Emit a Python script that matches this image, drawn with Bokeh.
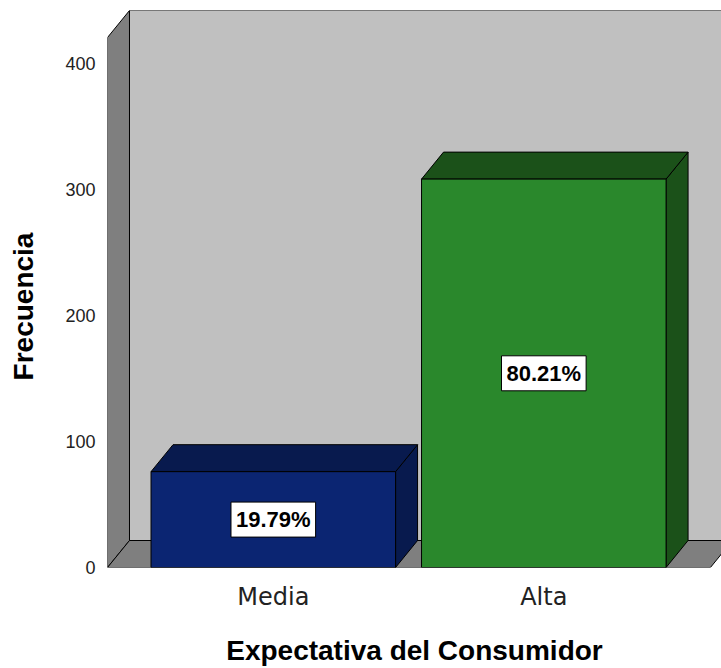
import numpy as np
from bokeh.plotting import figure
from bokeh.layouts import row
from bokeh.models import Range1d, LinearAxis, FixedTicker
from bokeh.core.properties import value
from bokeh.embed import file_html
from bokeh.resources import INLINE

# Frequencies of consumer expectation
categories = ["Media", "Alta"]
frequencies = [76, 308]
percent_labels = ["19.79%", "80.21%"]
y_ticks = [0, 100, 200, 300, 400]

front_colors = ["#0b2572", "#2a882c"]
shade_colors = ["#081a4e", "#1b5119"]

# Pseudo-3D geometry, in data units
pos = np.arange(1, len(categories) + 1, dtype=float)
half = 0.452          # half width of the bar front face
dx = 0.0813           # depth offset along x
dy = 21.4             # depth offset along y
wall_left = 0.3871
wall_right = 2.616
wall_top = 420.3

# narrow strip holding the vertical axis title (its frame lines up with the main one)
title_w = 46
side = figure(width=title_w, height=668, x_range=Range1d(0, 1), y_range=Range1d(0, 1),
              output_backend="svg", toolbar_location=None,
              x_axis_location=None, y_axis_location=None, min_border=0)
side.grid.grid_line_color = None
side.outline_line_color = None
side.text(x=[0.5], y=[0.4686], text=["Frecuencia"], angle=np.pi / 2,
          text_align="center", text_baseline="middle",
          text_font=value("Liberation Sans"), text_font_style="bold",
          text_font_size="28px", text_color="black")

p = figure(
    width=721 - title_w, height=668,
    x_range=Range1d(wall_left, 2.6569),
    y_range=Range1d(0, wall_top + dy),
    output_backend="svg", toolbar_location=None,
    x_axis_location=None, y_axis_location=None,
    min_border_left=107 - title_w, min_border_right=0,
    min_border_top=10, min_border_bottom=101,
)
p.grid.grid_line_color = None
p.outline_line_color = None
p.background_fill_color = "white"
p.border_fill_color = "white"

yaxis = LinearAxis(ticker=FixedTicker(ticks=y_ticks))
xaxis = LinearAxis(ticker=FixedTicker(ticks=list(pos)),
                   major_label_overrides={float(k): c for k, c in zip(pos, categories)},
                   axis_label="Expectativa del Consumidor")
for ax in (xaxis, yaxis):
    ax.axis_line_color = None
    ax.major_tick_line_color = None
    ax.minor_tick_line_color = None
    ax.major_tick_out = 0
    ax.major_tick_in = 0
    ax.minor_tick_out = 0
    ax.minor_tick_in = 0
    ax.axis_label_text_font = "Liberation Sans"
    ax.axis_label_text_font_style = "bold"
    ax.axis_label_text_font_size = "28px"
    ax.axis_label_text_color = "black"
yaxis.major_label_text_font = "Liberation Sans"
yaxis.major_label_text_font_size = "18px"
yaxis.major_label_text_color = "#222222"
yaxis.major_label_standoff = 12
xaxis.major_label_text_font = "DejaVu Sans"
xaxis.major_label_text_font_size = "24px"
xaxis.major_label_text_color = "#222222"
xaxis.major_label_standoff = 15
xaxis.axis_label_standoff = 21
p.add_layout(yaxis, "left")
p.add_layout(xaxis, "below")

# back wall, left wall and floor
p.quad(left=wall_left + dx, right=wall_right + dx, bottom=dy, top=wall_top + dy,
       fill_color="#c0c0c0", line_color="black", line_width=1)
p.patch(x=[wall_left, wall_left, wall_left + dx, wall_left + dx],
        y=[0, wall_top, wall_top + dy, dy],
        fill_color="#7f7f7f", line_color="black", line_width=1)
p.patch(x=[wall_left, wall_right, wall_right + dx, wall_left + dx],
        y=[0, 0, dy, dy],
        fill_color="#7f7f7f", line_color="black", line_width=1)

# bars: side and top faces, then the front face
left = pos - half
right = pos + half
vals = np.array(frequencies, dtype=float)
side_xs = [[r, r, r + dx, r + dx] for r in right]
side_ys = [[0, v, v + dy, dy] for v in vals]
top_xs = [[l, r, r + dx, l + dx] for l, r in zip(left, right)]
top_ys = [[v, v, v + dy, v + dy] for v in vals]
p.patches(xs=side_xs, ys=side_ys, fill_color=shade_colors, line_color="black", line_width=1)
p.patches(xs=top_xs, ys=top_ys, fill_color=shade_colors, line_color="black", line_width=1)
p.quad(left=left, right=right, bottom=0, top=vals,
       fill_color=front_colors, line_color="black", line_width=1)

# percentage boxes
p.text(x=pos, y=vals / 2, text=percent_labels,
       text_align="center", text_baseline="middle",
       text_font=value("Liberation Sans"), text_font_size="22px",
       text_font_style="bold", text_color="black",
       background_fill_color="white", border_line_color="black",
       padding=5)

layout = row(side, p, spacing=0)
open("out.html", "w").write(file_html(layout, INLINE))
